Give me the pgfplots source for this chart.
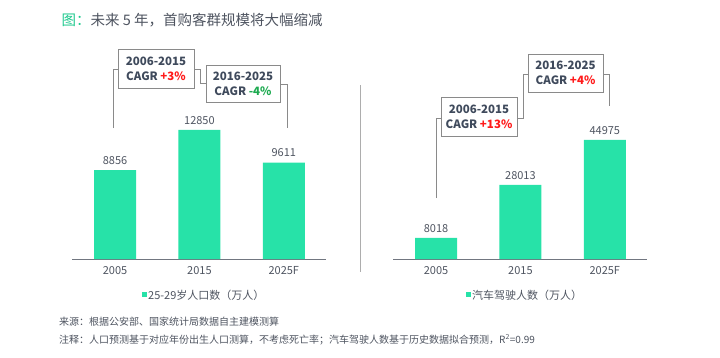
\documentclass[border=0pt]{standalone}
\usepackage{pgfplots}
\pgfplotsset{compat=1.18}
\usepackage{fontspec}
\setmainfont{Noto Sans CJK SC}
\definecolor{bar}{HTML}{27E2A8}
\definecolor{txt}{HTML}{4E5460}
\definecolor{boxtxt}{HTML}{3F4A5C}
\definecolor{ln}{HTML}{8A8A8A}
\definecolor{ttlg}{HTML}{1FC98E}
\definecolor{pos}{HTML}{FF1A1A}
\definecolor{neg}{HTML}{1DAA50}
\newcommand{\px}[2]{({#1*1pt},{(357-#2)*1pt})}
\pgfplotsset{
  mybars/.style={
    scale only axis, width=254pt,
    ybar, bar width=42pt,
    xmin=-0.51, xmax=2.5, ymin=0,
    hide y axis,
    axis x line*=bottom,
    x axis line style={-,draw=txt!80},
    xtick=data, xticklabels={2005,2015,2025F},
    major tick length=0pt,
    xticklabel style={font=\fontsize{11}{13}\selectfont, text=txt, yshift=-4pt},
    nodes near coords,
    every node near coord/.append style={font=\fontsize{11}{13}\selectfont, text=txt, yshift=2pt},
    /pgf/number format/.cd, 1000 sep={}, fixed, assume math mode=true,
  }
}
\begin{document}
\begin{tikzpicture}
\useasboundingbox \px{0}{357} rectangle \px{720}{0};
\node[anchor=west, font=\fontsize{14.5}{17}\selectfont] at \px{58}{20} {\textcolor{ttlg}{图：}\textcolor{txt}{未来 5 年，首购客群规模将大幅缩减}};

\begin{axis}[mybars, at={(72pt,98pt)}, anchor=south west, height=150.6pt, ymax=15000]
\addplot[fill=bar, draw=none] coordinates {(0,8856) (1,12850) (2,9611)};
\end{axis}
\begin{axis}[mybars, at={(393pt,98pt)}, anchor=south west, height=132.5pt, ymax=50000]
\addplot[fill=bar, draw=none] coordinates {(0,8018) (1,28013) (2,44975)};
\end{axis}

% legends
\fill[bar] \px{142}{292} rectangle \px{147}{297};
\node[anchor=west, text=txt, font=\fontsize{11}{13}\selectfont, inner sep=0pt] at \px{148}{295} {25-29岁人口数（万人）};
\fill[bar] \px{466}{292} rectangle \px{471}{297};
\node[anchor=west, text=txt, font=\fontsize{11}{13}\selectfont, inner sep=0pt] at \px{472}{295} {汽车驾驶人数（万人）};

% separator
\draw[ln!70, line width=0.8pt] \px{360}{85} -- \px{360}{272};

% boxes
\tikzset{cbox/.style={draw=ln, line width=0.8pt, fill=white, minimum width=76pt, minimum height=39pt, align=center, inner sep=0pt, text=boxtxt, font=\fontsize{11.5}{15}\selectfont\bfseries}}
\draw[ln, line width=0.8pt] \px{113}{128} -- \px{113}{69} -- \px{118}{69};
\draw[ln, line width=0.8pt] \px{194}{69} -- \px{200}{69} -- \px{200}{83} -- \px{206}{83};
\draw[ln, line width=0.8pt] \px{280}{84} -- \px{287}{84} -- \px{287}{128};
\node[cbox] at \px{156}{68.5} {2006-2015\\CAGR \textcolor{pos}{+3\%}};
\node[cbox, minimum width=74pt, minimum height=37pt] at \px{243}{83.5} {2016-2025\\CAGR \textcolor{neg}{-4\%}};

\draw[ln, line width=0.8pt] \px{436}{198} -- \px{436}{118} -- \px{441}{118};
\draw[ln, line width=0.8pt] \px{517}{118} -- \px{523}{118} -- \px{523}{74} -- \px{528}{74};
\draw[ln, line width=0.8pt] \px{603}{74} -- \px{609}{74} -- \px{609}{106};
\node[cbox] at \px{479}{117} {2006-2015\\CAGR \textcolor{pos}{+13\%}};
\node[cbox, minimum width=75pt, minimum height=38pt] at \px{565.5}{73} {2016-2025\\CAGR \textcolor{pos}{+4\%}};

% footer
\node[anchor=west, text=txt, font=\fontsize{10}{12}\selectfont, inner sep=0pt] at \px{59}{322} {来源：根据公安部、国家统计局数据自主建模测算};
\node[anchor=west, text=txt, font=\fontsize{10}{12}\selectfont, inner sep=0pt] at \px{59}{340} {注释：人口预测基于对应年份出生人口测算，不考虑死亡率；汽车驾驶人数基于历史数据拟合预测，R\textsuperscript{2}=0.99};
\end{tikzpicture}
\end{document}
